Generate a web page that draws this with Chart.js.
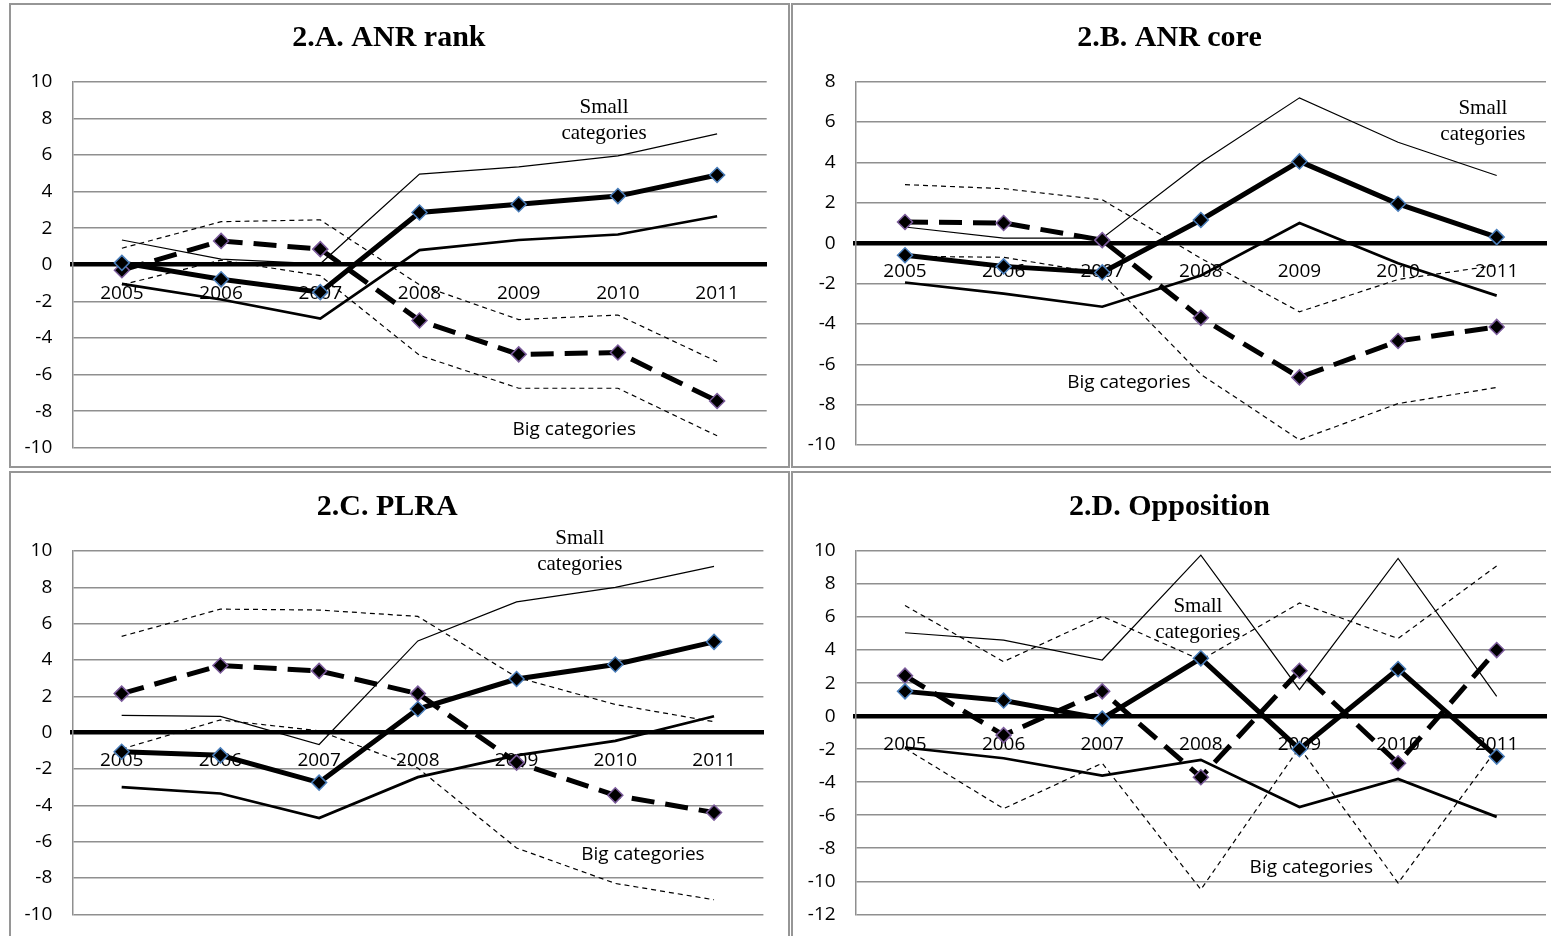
<!DOCTYPE html>
<html lang="en">
<head>
    <meta charset="UTF-8">
    <title>Figure 2</title>
    <script src="https://cdn.jsdelivr.net/npm/chart.js"></script>
    <style>
        html, body { margin: 0; padding: 0; background: #fff; width: 1551px; height: 936px; overflow: hidden; }
        .panel { position: absolute; box-sizing: border-box; border: 2px solid #969696; background: #fff; }
        .panel canvas { display: block; }
        #pa { left: 9px; top: 3px; width: 781px; height: 465px; }
        #pb { left: 791px; top: 3px; width: 780px; height: 465px; }
        #pc { left: 9px; top: 471px; width: 781px; height: 467px; }
        #pd { left: 791px; top: 471px; width: 780px; height: 467px; }
    </style>
</head>
<body>
    <div class="panel" id="pa"><canvas id="ca" width="777" height="461"></canvas></div>
    <div class="panel" id="pb"><canvas id="cb" width="776" height="461"></canvas></div>
    <div class="panel" id="pc"><canvas id="cc" width="777" height="463"></canvas></div>
    <div class="panel" id="pd"><canvas id="cd" width="776" height="463"></canvas></div>
    <script>
        // years on the category axis
        const years = ["2005", "2006", "2007", "2008", "2009", "2010", "2011"];

        // 2.A. ANR rank
        const aSmall   = [0.1, -0.8, -1.5, 2.85, 3.3, 3.75, 4.9];
        const aSmallHi = [1.35, 0.3, 0.05, 4.95, 5.35, 5.95, 7.15];
        const aSmallLo = [-1.05, -1.9, -2.95, 0.8, 1.35, 1.65, 2.65];
        const aBig     = [-0.3, 1.3, 0.85, -3.05, -4.9, -4.8, -7.45];
        const aBigHi   = [0.9, 2.35, 2.45, -1.1, -3.0, -2.75, -5.3];
        const aBigLo   = [-1.1, 0.25, -0.6, -4.95, -6.75, -6.75, -9.35];

        // 2.B. ANR core
        const bSmall   = [-0.6, -1.15, -1.45, 1.15, 4.05, 1.95, 0.3];
        const bSmallHi = [0.8, 0.25, 0.25, 4.0, 7.2, 5.0, 3.35];
        const bSmallLo = [-1.95, -2.5, -3.15, -1.6, 1.0, -1.0, -2.6];
        const bBig     = [1.05, 1.0, 0.15, -3.7, -6.65, -4.85, -4.15];
        const bBigHi   = [2.9, 2.7, 2.15, -0.75, -3.4, -1.8, -1.1];
        const bBigLo   = [-0.65, -0.7, -1.5, -6.5, -9.75, -7.95, -7.15];

        // 2.C. PLRA
        const cSmall   = [-1.05, -1.25, -2.75, 1.3, 2.95, 3.75, 5.0];
        const cSmallHi = [0.95, 0.9, -0.65, 5.05, 7.2, 8.0, 9.15];
        const cSmallLo = [-3.0, -3.35, -4.7, -2.45, -1.25, -0.45, 0.9];
        const cBig     = [2.15, 3.7, 3.4, 2.15, -1.65, -3.45, -4.4];
        const cBigHi   = [5.3, 6.8, 6.75, 6.4, 3.05, 1.55, 0.6];
        const cBigLo   = [-0.9, 0.7, 0.1, -1.95, -6.35, -8.3, -9.2];

        // 2.D. Opposition
        const dSmall   = [1.5, 0.95, -0.15, 3.5, -2.0, 2.85, -2.45];
        const dSmallHi = [5.05, 4.6, 3.4, 9.75, 1.6, 9.55, 1.2];
        const dSmallLo = [-1.9, -2.55, -3.6, -2.65, -5.5, -3.8, -6.1];
        const dBig     = [2.45, -1.15, 1.5, -3.7, 2.75, -2.85, 4.0];
        const dBigHi   = [6.7, 3.3, 6.05, 3.4, 6.85, 4.7, 9.1];
        const dBigLo   = [-1.95, -5.6, -2.85, -10.5, -1.9, -10.1, -2.0];

        // y axis ranges (min, max)
        const aRange = [-10, 10];
        const bRange = [-10, 8];
        const cRange = [-10, 10];
        const dRange = [-12, 10];

        const serif = "'Liberation Serif', 'Times New Roman', serif";
        const sans = "'Open Sans', sans-serif";
        const gridGray = "#8f8f8f";

        // text labels "Small categories" / "Big categories", anchored in data units
        const notesPlugin = {
            id: "notes",
            afterDatasetsDraw(chart, args, opts) {
                const ctx = chart.ctx;
                const xs = chart.scales.x, ys = chart.scales.y;
                ctx.save();
                ctx.fillStyle = "#000";
                ctx.textAlign = "center";
                ctx.textBaseline = "middle";
                (opts.items || []).forEach(n => {
                    ctx.font = n.font;
                    const px = xs.getPixelForValue(n.x);
                    const py = ys.getPixelForValue(n.y);
                    n.lines.forEach((t, i) => ctx.fillText(t, px, py + i * 26));
                });
                ctx.restore();
            }
        };

        function lineSet(data, width, dash, points, edge) {
            return {
                data: data,
                borderColor: "#000",
                borderWidth: width,
                borderDash: dash,
                borderCapStyle: "butt",
                tension: 0,
                fill: false,
                pointStyle: "rectRot",
                pointRadius: points ? 7.5 : 0,
                pointHoverRadius: points ? 7.5 : 0,
                pointBackgroundColor: "#000",
                pointBorderColor: edge || "#000",
                pointBorderWidth: 1.5
            };
        }

        function crearPanel(id, titulo, s, range, lay, notes) {
            const ctx = document.getElementById(id).getContext("2d");
            return new Chart(ctx, {
                type: "line",
                data: {
                    labels: years,
                    datasets: [
                        lineSet(s.small, 5, [], true, "#4a7ebb"),
                        lineSet(s.big, 5, [23, 11], true, "#7b5b9b"),
                        lineSet(s.smallHi, 1.2, [], false),
                        lineSet(s.smallLo, 2.7, [], false),
                        lineSet(s.bigHi, 1.2, [5, 4], false),
                        lineSet(s.bigLo, 1.2, [5, 4], false)
                    ]
                },
                plugins: [notesPlugin],
                options: {
                    responsive: false,
                    animation: false,
                    layout: { padding: { left: 0, right: lay.right, top: 0, bottom: lay.bottom } },
                    plugins: {
                        legend: { display: false },
                        tooltip: { enabled: false },
                        title: {
                            display: true,
                            text: titulo,
                            color: "#000",
                            font: { family: serif, size: 30, weight: "bold" },
                            padding: { top: lay.tTop, bottom: lay.tBottom }
                        },
                        notes: { items: notes }
                    },
                    scales: {
                        x: {
                            type: "category",
                            offset: true,
                            position: { y: 0 },
                            grid: { display: false, drawTicks: false },
                            border: { display: true, color: "#000", width: 4.5 },
                            ticks: { padding: 17, color: "#000", autoSkip: false, maxRotation: 0, font: { family: sans, size: 19 } },
                            afterFit(sc) { sc.height = 0; }
                        },
                        y: {
                            min: range[0],
                            max: range[1],
                            grid: { color: gridGray, lineWidth: 1.5, drawTicks: false },
                            border: { color: gridGray, width: 1.5 },
                            ticks: { stepSize: 2, padding: 20, color: "#000", font: { family: sans, size: 19 } },
                            afterFit(sc) {
                                // fixed axis width, and no extra room for the end labels
                                sc.width = lay.yw;
                                sc.paddingTop = 0;
                                sc.paddingBottom = 0;
                            }
                        }
                    }
                }
            });
        }

        crearPanel("ca", "2.A. ANR rank",
            { small: aSmall, smallHi: aSmallHi, smallLo: aSmallLo, big: aBig, bigHi: aBigHi, bigLo: aBigLo },
            aRange,
            { yw: 61.3, right: 21.3, bottom: 18.3, tTop: 15.3, tBottom: 25.4 },
            [
                { lines: ["Small", "categories"], x: 4.86, y: 8.6, font: "21px " + serif },
                { lines: ["Big categories"], x: 4.56, y: -9.0, font: "19px " + sans }
            ]);

        crearPanel("cb", "2.B. ANR core",
            { small: bSmall, smallHi: bSmallHi, smallLo: bSmallLo, big: bBig, bigHi: bBigHi, bigLo: bBigLo },
            bRange,
            { yw: 62.7, right: 23, bottom: 21, tTop: 15.3, tBottom: 25.4 },
            [
                { lines: ["Small", "categories"], x: 5.86, y: 6.65, font: "21px " + serif },
                { lines: ["Big categories"], x: 2.27, y: -6.9, font: "19px " + sans }
            ]);

        crearPanel("cc", "2.C. PLRA",
            { small: cSmall, smallHi: cSmallHi, smallLo: cSmallLo, big: cBig, bigHi: cBigHi, bigLo: cBigLo },
            cRange,
            { yw: 61.3, right: 24.6, bottom: 21.7, tTop: 16.7, tBottom: 25.3 },
            [
                { lines: ["Small", "categories"], x: 4.64, y: 10.7, font: "21px " + serif },
                { lines: ["Big categories"], x: 5.28, y: -6.69, font: "19px " + sans }
            ]);

        crearPanel("cd", "2.D. Opposition",
            { small: dSmall, smallHi: dSmallHi, smallLo: dSmallLo, big: dBig, bigHi: dBigHi, bigLo: dBigLo },
            dRange,
            { yw: 62.7, right: 23, bottom: 21.7, tTop: 16.7, tBottom: 25.3 },
            [
                { lines: ["Small", "categories"], x: 2.97, y: 6.67, font: "21px " + serif },
                { lines: ["Big categories"], x: 4.12, y: -9.17, font: "19px " + sans }
            ]);
    </script>
</body>
</html>
